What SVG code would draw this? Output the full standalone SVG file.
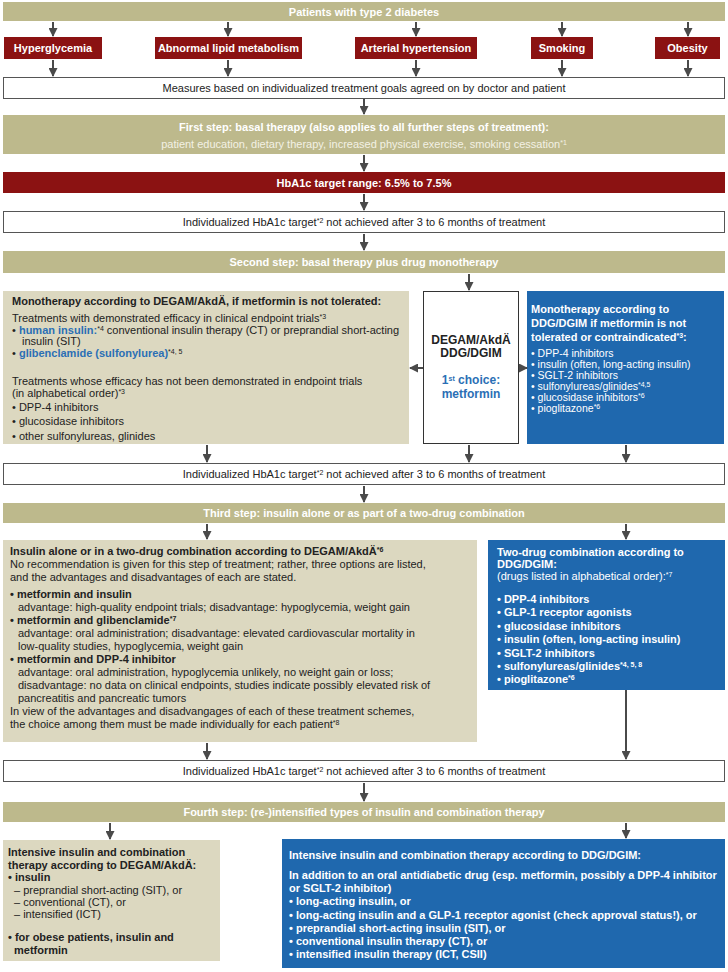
<svg xmlns="http://www.w3.org/2000/svg" width="728" height="972" viewBox="0 0 728 972">
<defs>
<style>
text{font-family:"Liberation Sans",Arial,Helvetica,sans-serif;font-size:11px;fill:#222}
.b{font-weight:bold}
.w{fill:#fff}
.lw{fill:#f3f1e4}
.c{text-anchor:middle}
.bl{fill:#2b6fb5;font-weight:bold}
.sup{font-size:7px;baseline-shift:super}
.ban{fill:#bdb98c}
.lol{fill:#dcd8c0}
.red{fill:#8b1212}
.blu{fill:#1f68ae}
.wb{fill:#fff;stroke:#555;stroke-width:1}
.ar{stroke:#4a4a4a;stroke-width:2;fill:none;marker-end:url(#ah)}
.sm{font-size:10.5px}
</style>
<marker id="ah" markerUnits="userSpaceOnUse" markerWidth="10" markerHeight="9" refX="8" refY="4.5" orient="auto">
<path d="M0,0 L9,4.5 L0,9 z" fill="#4a4a4a"/>
</marker>
</defs>
<rect width="728" height="972" fill="#fff"/>

<g id="patients">
<rect class="ban" x="3" y="2" width="722" height="19"/>
<text class="b w c" x="364" y="16">Patients with type 2 diabetes</text>
</g>
<g id="hyperglycemia"><rect class="red" x="4" y="37" width="98" height="22"/><text class="b w c" x="53" y="52">Hyperglycemia</text></g>
<g id="lipid"><rect class="red" x="155" y="37" width="147" height="22"/><text class="b w c" x="228.5" y="52">Abnormal lipid metabolism</text></g>
<g id="hypertension"><rect class="red" x="355" y="37" width="122" height="22"/><text class="b w c" x="416" y="52">Arterial hypertension</text></g>
<g id="smoking"><rect class="red" x="531" y="37" width="62" height="22"/><text class="b w c" x="562" y="52">Smoking</text></g>
<g id="obesity"><rect class="red" x="655" y="37" width="65" height="22"/><text class="b w c" x="687.5" y="52">Obesity</text></g>

<g id="measures"><rect class="wb" x="3.5" y="77.5" width="721" height="21"/><text class="c" x="364" y="92">Measures based on individualized treatment goals agreed on by doctor and patient</text></g>

<g id="step1">
<rect class="ban" x="3" y="115" width="722" height="39"/>
<text class="b w c" x="364" y="131">First step: basal therapy (also applies to all further steps of treatment):</text>
<text class="lw c" x="364" y="148">patient education, dietary therapy, increased physical exercise, smoking cessation<tspan class="sup">*1</tspan></text>
</g>

<g id="hba1c"><rect class="red" x="3" y="172" width="722" height="21"/><text class="b w c" x="364" y="187">HbA1c target range: 6.5% to 7.5%</text></g>

<g id="notachieved1"><rect class="wb" x="3.5" y="211.5" width="721" height="21"/><text class="c" x="364" y="226">Individualized HbA1c target<tspan class="sup">*2</tspan> not achieved after 3 to 6 months of treatment</text></g>

<g id="step2"><rect class="ban" x="3" y="251" width="722" height="22"/><text class="b w c" x="364" y="266">Second step: basal therapy plus drug monotherapy</text></g>

<g id="mono-degam">
<rect class="lol" x="3" y="291" width="406" height="153"/>
<text class="b" x="12" y="305">Monotherapy according to DEGAM/AkdÄ, if metformin is not tolerated:</text>
<text x="12" y="322">Treatments with demonstrated efficacy in clinical endpoint trials<tspan class="sup">*3</tspan></text>
<text x="12" y="334">• <tspan class="bl">human insulin:</tspan><tspan class="sup">*4</tspan> conventional insulin therapy (CT) or preprandial short-acting</text>
<text x="22" y="345">insulin (SIT)</text>
<text x="12" y="357">• <tspan class="bl">glibenclamide (sulfonylurea)</tspan><tspan class="sup">*4, 5</tspan></text>
<text x="12" y="385">Treatments whose efficacy has not been demonstrated in endpoint trials</text>
<text x="12" y="397">(in alphabetical order)<tspan class="sup">*3</tspan></text>
<text x="12" y="411">• DPP-4 inhibitors</text>
<text x="12" y="425">• glucosidase inhibitors</text>
<text x="12" y="440">• other sulfonylureas, glinides</text>
</g>

<g id="first-choice">
<rect x="423.5" y="291.5" width="95" height="152" fill="#fff" stroke="#333" stroke-width="1"/>
<text class="b c" x="471" y="344" style="font-size:12px">DEGAM/AkdÄ</text>
<text class="b c" x="471" y="357" style="font-size:12px">DDG/DGIM</text>
<text class="bl c" x="471" y="384" style="font-size:12px">1<tspan class="sup">st</tspan> choice:</text>
<text class="bl c" x="471" y="398" style="font-size:12px">metformin</text>
</g>

<g id="mono-ddg">
<rect class="blu" x="527" y="291" width="197" height="153"/>
<text class="b w" x="531" y="313">Monotherapy according to</text>
<text class="b w" x="531" y="327">DDG/DGIM if metformin is not</text>
<text class="b w" x="531" y="341">tolerated or contraindicated<tspan class="sup">*3</tspan>:</text>
<text class="w sm" x="531" y="357">• DPP-4 inhibitors</text>
<text class="w sm" x="531" y="368">• insulin (often, long-acting insulin)</text>
<text class="w sm" x="531" y="379">• SGLT-2 inhibitors</text>
<text class="w sm" x="531" y="390">• sulfonylureas/glinides<tspan class="sup">*4,5</tspan></text>
<text class="w sm" x="531" y="401">• glucosidase inhibitors<tspan class="sup">*6</tspan></text>
<text class="w sm" x="531" y="412">• pioglitazone<tspan class="sup">*6</tspan></text>
</g>

<g id="notachieved2"><rect class="wb" x="3.5" y="463.5" width="721" height="21"/><text class="c" x="364" y="478">Individualized HbA1c target<tspan class="sup">*2</tspan> not achieved after 3 to 6 months of treatment</text></g>

<g id="step3"><rect class="ban" x="3" y="503" width="722" height="20"/><text class="b w c" x="364" y="517">Third step: insulin alone or as part of a two-drug combination</text></g>

<g id="combo-degam">
<rect class="lol" x="3" y="540" width="474" height="202"/>
<text class="b" x="10" y="555">Insulin alone or in a two-drug combination according to DEGAM/AkdÄ<tspan class="sup">*6</tspan></text>
<text x="10" y="568">No recommendation is given for this step of treatment; rather, three options are listed,</text>
<text x="10" y="581">and the advantages and disadvantages of each are stated.</text>
<text class="b" x="10" y="598">• metformin and insulin</text>
<text x="18" y="611">advantage: high-quality endpoint trials; disadvantage: hypoglycemia, weight gain</text>
<text class="b" x="10" y="624">• metformin and glibenclamide<tspan class="sup">*7</tspan></text>
<text x="18" y="637">advantage: oral administration; disadvantage: elevated cardiovascular mortality in</text>
<text x="18" y="650">low-quality studies, hypoglycemia, weight gain</text>
<text class="b" x="10" y="663">• metformin and DPP-4 inhibitor</text>
<text x="18" y="676">advantage: oral administration, hypoglycemia unlikely, no weight gain or loss;</text>
<text x="18" y="689">disadvantage: no data on clinical endpoints, studies indicate possibly elevated risk of</text>
<text x="18" y="702">pancreatitis and pancreatic tumors</text>
<text x="10" y="715">In view of the advantages and disadvangages of each of these treatment schemes,</text>
<text x="10" y="728">the choice among them must be made individually for each patient<tspan class="sup">*8</tspan></text>
</g>

<g id="combo-ddg">
<rect class="blu" x="488" y="540" width="237" height="150"/>
<text class="b w" x="497" y="556">Two-drug combination according to</text>
<text class="b w" x="497" y="568">DDG/DGIM:</text>
<text class="w" x="497" y="580">(drugs listed in alphabetical order):<tspan class="sup">*7</tspan></text>
<text class="b w" x="497" y="603">• DPP-4 inhibitors</text>
<text class="b w" x="497" y="616">• GLP-1 receptor agonists</text>
<text class="b w" x="497" y="630">• glucosidase inhibitors</text>
<text class="b w" x="497" y="643">• insulin (often, long-acting insulin)</text>
<text class="b w" x="497" y="657">• SGLT-2 inhibitors</text>
<text class="b w" x="497" y="670">• sulfonylureas/glinides<tspan class="sup">*4, 5, 8</tspan></text>
<text class="b w" x="497" y="683">• pioglitazone<tspan class="sup">*6</tspan></text>
</g>

<g id="notachieved3"><rect class="wb" x="3.5" y="760.5" width="721" height="21"/><text class="c" x="364" y="775">Individualized HbA1c target<tspan class="sup">*2</tspan> not achieved after 3 to 6 months of treatment</text></g>

<g id="step4"><rect class="ban" x="3" y="802" width="722" height="20"/><text class="b w c" x="364" y="816">Fourth step: (re-)intensified types of insulin and combination therapy</text></g>

<g id="intensive-degam">
<rect class="lol" x="3" y="840" width="217" height="121"/>
<text class="b" x="8" y="856">Intensive insulin and combination</text>
<text class="b" x="8" y="869">therapy according to DEGAM/AkdÄ:</text>
<text class="b" x="8" y="881">• insulin</text>
<text x="14" y="894">– preprandial short-acting (SIT), or</text>
<text x="14" y="906">– conventional (CT), or</text>
<text x="14" y="918">– intensified (ICT)</text>
<text class="b" x="8" y="941">• for obese patients, insulin and</text>
<text class="b" x="14" y="954">metformin</text>
</g>

<g id="intensive-ddg">
<rect class="blu" x="282" y="839" width="443" height="129"/>
<text class="b w" x="289" y="859">Intensive insulin and combination therapy according to DDG/DGIM:</text>
<text class="b w" x="289" y="879">In addition to an oral antidiabetic drug (esp. metformin, possibly a DPP-4 inhibitor</text>
<text class="b w" x="289" y="892">or SGLT-2 inhibitor)</text>
<text class="b w" x="289" y="905">• long-acting insulin, or</text>
<text class="b w" x="289" y="919">• long-acting insulin and a GLP-1 receptor agonist (check approval status!), or</text>
<text class="b w" x="289" y="932">• preprandial short-acting insulin (SIT), or</text>
<text class="b w" x="289" y="945">• conventional insulin therapy (CT), or</text>
<text class="b w" x="289" y="958">• intensified insulin therapy (ICT, CSII)</text>
</g>

<g id="connectors">
<line class="ar" x1="53" y1="22" x2="53" y2="36"/>
<line class="ar" x1="228" y1="22" x2="228" y2="36"/>
<line class="ar" x1="416" y1="22" x2="416" y2="36"/>
<line class="ar" x1="562" y1="22" x2="562" y2="36"/>
<line class="ar" x1="688" y1="22" x2="688" y2="36"/>
<line class="ar" x1="53" y1="60" x2="53" y2="76"/>
<line class="ar" x1="228" y1="60" x2="228" y2="76"/>
<line class="ar" x1="416" y1="60" x2="416" y2="76"/>
<line class="ar" x1="562" y1="60" x2="562" y2="76"/>
<line class="ar" x1="688" y1="60" x2="688" y2="76"/>
<line class="ar" x1="364" y1="99" x2="364" y2="114"/>
<line class="ar" x1="364" y1="155" x2="364" y2="171"/>
<line class="ar" x1="364" y1="194" x2="364" y2="210"/>
<line class="ar" x1="364" y1="234" x2="364" y2="250"/>
<line class="ar" x1="469" y1="274" x2="469" y2="290"/>
<line class="ar" x1="423" y1="368" x2="410" y2="368"/>
<line class="ar" x1="519" y1="368" x2="527" y2="368"/>
<line class="ar" x1="207" y1="445" x2="207" y2="462"/>
<line class="ar" x1="469" y1="445" x2="469" y2="462"/>
<line class="ar" x1="626" y1="445" x2="626" y2="462"/>
<line class="ar" x1="364" y1="486" x2="364" y2="502"/>
<line class="ar" x1="207" y1="524" x2="207" y2="539"/>
<line class="ar" x1="626" y1="524" x2="626" y2="539"/>
<line class="ar" x1="207" y1="743" x2="207" y2="759"/>
<line class="ar" x1="626" y1="690" x2="626" y2="759"/>
<line class="ar" x1="364" y1="783" x2="364" y2="801"/>
<line class="ar" x1="110" y1="823" x2="110" y2="839"/>
<line class="ar" x1="626" y1="823" x2="626" y2="838"/>
</g>
</svg>
